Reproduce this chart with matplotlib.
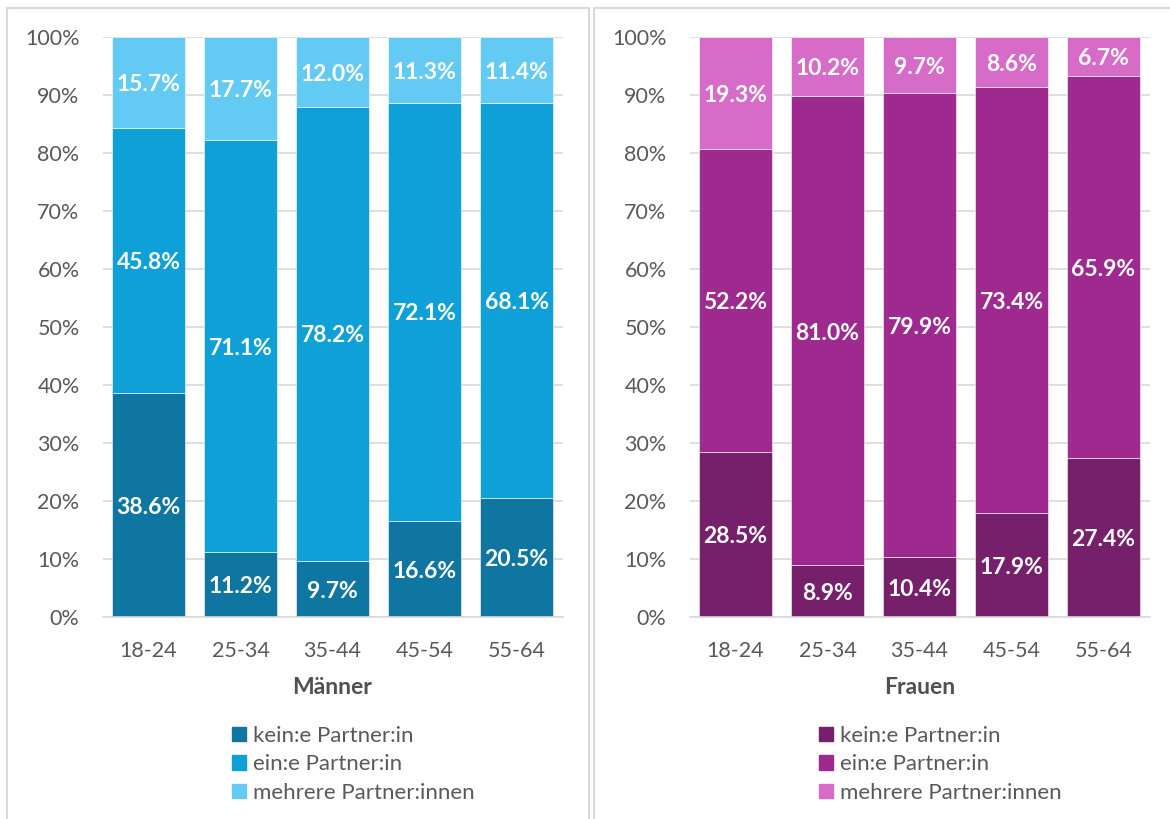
import matplotlib.pyplot as plt
from matplotlib.patches import Rectangle, Patch
import numpy as np

plt.rcParams['font.family'] = ['Lato', 'DejaVu Sans']

altersgruppen = ['18-24', '25-34', '35-44', '45-54', '55-64']
serien = ['kein:e Partner:in', 'ein:e Partner:in', 'mehrere Partner:innen']

maenner_kein = [38.6, 11.2, 9.7, 16.6, 20.5]
maenner_ein = [45.8, 71.1, 78.2, 72.1, 68.1]
maenner_mehrere = [15.7, 17.7, 12.0, 11.3, 11.4]

frauen_kein = [28.5, 8.9, 10.4, 17.9, 27.4]
frauen_ein = [52.2, 81.0, 79.9, 73.4, 65.9]
frauen_mehrere = [19.3, 10.2, 9.7, 8.6, 6.7]

farben_m = ['#0E76A0', '#10A0D8', '#62CAF3']
farben_f = ['#761F6B', '#9E2A8F', '#D66CC8']

W, H = 1170, 819
fig = plt.figure(figsize=(W / 100, H / 100), dpi=100)

# Rahmen der beiden Diagrammbereiche
for x0, x1 in [(7, 589), (594, 1175)]:
    fig.patches.append(Rectangle((x0 / W, -0.05), (x1 - x0) / W, (H - 8) / H + 0.05,
                                 transform=fig.transFigure, fill=False,
                                 edgecolor='#D9D9D9', lw=1.5))


def panel(left, werte, farben, titel):
    ax = fig.add_axes([left / W, (H - 617) / H, 460 / W, 580 / H])
    x = np.arange(len(altersgruppen))
    werte = np.array(werte)
    anteile = werte / werte.sum(axis=0) * 100  # 100%-gestapelt
    unten = np.zeros(len(x))
    for name, v, h, c in zip(serien, werte, anteile, farben):
        bars = ax.bar(x, h, 0.79, bottom=unten, color=c, edgecolor='white',
                      linewidth=0.4, label=name, zorder=2)
        for b, val, hh, u in zip(bars, v, h, unten):
            ax.text(b.get_x() + b.get_width() / 2, u + hh / 2 - 0.4, f'{val:.1f}%',
                    ha='center', va='center', color='white', fontsize=16.5,
                    fontweight='bold', zorder=3)
        unten += h
    ax.set_xlim(-0.5, 4.5)
    ax.set_ylim(0, 100)
    ax.set_yticks(range(0, 101, 10))
    ax.set_yticklabels([f'{t}%' for t in range(0, 101, 10)])
    ax.set_xticks(x)
    ax.set_xticklabels(altersgruppen)
    ax.tick_params(length=0, labelsize=15.5, labelcolor='#595959')
    ax.tick_params(axis='y', pad=16.5)
    ax.tick_params(axis='x', pad=17)
    ax.grid(axis='y', color='#D9D9D9', lw=1.2, zorder=0)
    for s in ['top', 'right', 'left']:
        ax.spines[s].set_visible(False)
    ax.spines['bottom'].set_color('#D9D9D9')
    ax.spines['bottom'].set_linewidth(1.2)
    ax.set_xlabel(titel, fontsize=16.5, fontweight='bold', color='#505050', labelpad=12)
    handles = [Patch(color=c) for c in farben]
    ax.legend(handles, serien, loc='upper left',
              bbox_to_anchor=((left + 121) / W, (H - 717) / H),
              bbox_transform=fig.transFigure, frameon=False, fontsize=16,
              labelcolor='#595959', handlelength=0.6, handleheight=0.6,
              handletextpad=0.35, labelspacing=0.38, borderaxespad=0)
    return ax


panel(102.5, [maenner_kein, maenner_ein, maenner_mehrere], farben_m, 'Männer')
panel(689.5, [frauen_kein, frauen_ein, frauen_mehrere], farben_f, 'Frauen')

fig.savefig('out.png', dpi=100)
